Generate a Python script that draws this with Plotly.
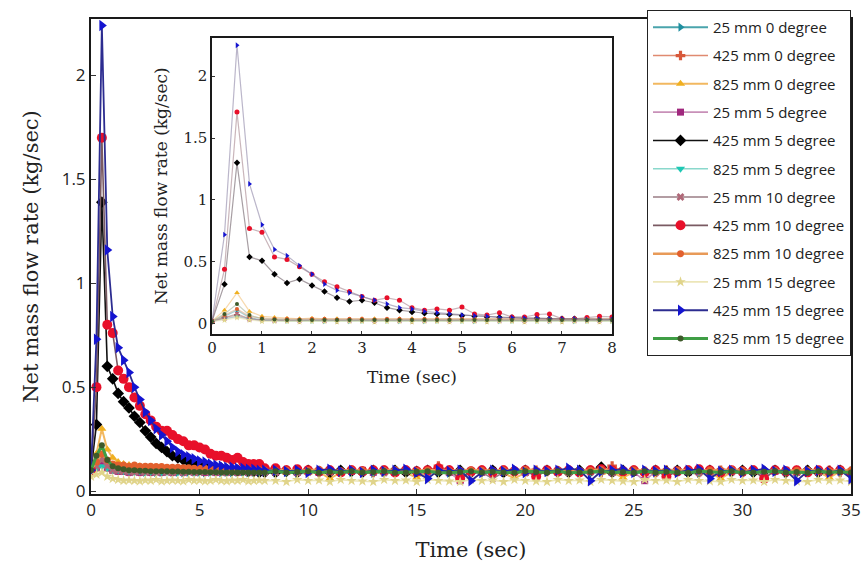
import plotly.graph_objects as go

# ---------------- data ----------------
names = ["25 mm 0 degree", "425 mm 0 degree", "825 mm 0 degree",
         "25 mm 5 degree", "425 mm 5 degree", "825 mm 5 degree",
         "25 mm 10 degree", "425 mm 10 degree", "825 mm 10 degree",
         "25 mm 15 degree", "425 mm 15 degree", "825 mm 15 degree"]

# main plot: samples every 0.25 s up to 8 s, then every 0.5 s up to 35 s
m_25_0 = [0.10, 0.12, 0.14, 0.12, 0.11, 0.105, 0.10, 0.10, 0.095, 0.095, 0.09, 0.095, 0.09, 0.09, 0.095, 0.09, 0.09,
          0.088, 0.09, 0.092, 0.09, 0.088, 0.09, 0.092, 0.088, 0.09, 0.088, 0.09, 0.092, 0.088, 0.09, 0.088, 0.09,
          0.088, 0.09, 0.085, 0.09, 0.092, 0.086, 0.09, 0.088, 0.092, 0.085,
          0.09, 0.088, 0.092, 0.086, 0.09, 0.088, 0.085, 0.092, 0.09, 0.088,
          0.086, 0.09, 0.092, 0.088, 0.085, 0.09, 0.088, 0.092, 0.086, 0.09,
          0.088, 0.092, 0.085, 0.09, 0.088, 0.086, 0.092, 0.09, 0.088, 0.085,
          0.09, 0.092, 0.088, 0.086, 0.09, 0.088, 0.092, 0.085, 0.09, 0.088,
          0.086, 0.09, 0.092, 0.088]
m_425_0 = [0.10, 0.13, 0.16, 0.12, 0.11, 0.10, 0.10, 0.095, 0.10, 0.095, 0.10, 0.095, 0.10, 0.095, 0.10, 0.095, 0.10,
           0.095, 0.10, 0.095, 0.10, 0.095, 0.10, 0.095, 0.10, 0.095, 0.10, 0.095, 0.10, 0.095, 0.10, 0.095, 0.10,
           0.095, 0.10, 0.095, 0.10, 0.09, 0.10, 0.095, 0.10, 0.095, 0.09,
           0.10, 0.095, 0.10, 0.09, 0.095, 0.12, 0.10, 0.095, 0.09, 0.10,
           0.095, 0.10, 0.09, 0.095, 0.10, 0.095, 0.09, 0.10, 0.095, 0.10,
           0.09, 0.12, 0.095, 0.10, 0.095, 0.09, 0.10, 0.095, 0.10, 0.09,
           0.095, 0.10, 0.095, 0.09, 0.10, 0.095, 0.10, 0.09, 0.095, 0.10,
           0.095, 0.10, 0.09, 0.095]
m_825_0 = [0.10, 0.18, 0.30, 0.20, 0.16, 0.14, 0.13, 0.125, 0.12, 0.12, 0.115, 0.115, 0.11, 0.11, 0.11, 0.105, 0.105,
           0.105, 0.10, 0.10, 0.10, 0.10, 0.098, 0.098, 0.096, 0.096, 0.095, 0.095, 0.095, 0.094, 0.094, 0.093, 0.093,
           0.093, 0.09, 0.095, 0.088, 0.092, 0.06, 0.09, 0.095, 0.088, 0.092,
           0.09, 0.095, 0.088, 0.065, 0.092, 0.09, 0.095, 0.088, 0.092, 0.09,
           0.095, 0.088, 0.06, 0.09, 0.092, 0.095, 0.088, 0.09, 0.092, 0.095,
           0.088, 0.09, 0.065, 0.092, 0.095, 0.088, 0.09, 0.092, 0.095, 0.088,
           0.09, 0.06, 0.092, 0.095, 0.088, 0.09, 0.092, 0.095, 0.088, 0.09,
           0.092, 0.065, 0.095, 0.09]
m_25_5 = [0.10, 0.11, 0.13, 0.11, 0.10, 0.095, 0.095, 0.09, 0.095, 0.09, 0.095, 0.09, 0.095, 0.09, 0.095, 0.09, 0.095,
          0.09, 0.095, 0.09, 0.095, 0.09, 0.095, 0.09, 0.095, 0.09, 0.095, 0.09, 0.095, 0.09, 0.095, 0.09, 0.095,
          0.09, 0.095, 0.09, 0.10, 0.09, 0.095, 0.09, 0.095, 0.10, 0.09,
          0.095, 0.09, 0.095, 0.09, 0.10, 0.095, 0.09, 0.05, 0.095, 0.09,
          0.10, 0.09, 0.095, 0.09, 0.095, 0.10, 0.09, 0.095, 0.09, 0.095,
          0.10, 0.09, 0.095, 0.09, 0.05, 0.095, 0.09, 0.10, 0.09, 0.095,
          0.09, 0.095, 0.10, 0.09, 0.095, 0.09, 0.095, 0.10, 0.09, 0.095,
          0.09, 0.095, 0.10, 0.09]
m_425_5 = [0.10, 0.32, 1.39, 0.60, 0.54, 0.47, 0.43, 0.40, 0.36, 0.33, 0.29, 0.26, 0.23, 0.21, 0.19, 0.17, 0.16,
           0.15, 0.14, 0.13, 0.125, 0.12, 0.115, 0.11, 0.11, 0.105, 0.10, 0.10, 0.10, 0.095, 0.095, 0.09, 0.09,
           0.09, 0.095, 0.09, 0.10, 0.095, 0.09, 0.10, 0.095, 0.09, 0.10,
           0.095, 0.10, 0.09, 0.095, 0.10, 0.09, 0.095, 0.10, 0.09, 0.095,
           0.10, 0.09, 0.095, 0.10, 0.09, 0.10, 0.095, 0.09, 0.10, 0.095,
           0.115, 0.09, 0.10, 0.095, 0.09, 0.10, 0.095, 0.10, 0.09, 0.095,
           0.10, 0.09, 0.095, 0.10, 0.09, 0.095, 0.10, 0.09, 0.095, 0.10,
           0.09, 0.095, 0.10, 0.09]
m_825_5 = [0.10, 0.11, 0.12, 0.11, 0.10, 0.10, 0.095, 0.095, 0.092, 0.095, 0.09, 0.092, 0.095, 0.09, 0.092, 0.095, 0.09,
           0.092, 0.095, 0.09, 0.092, 0.095, 0.09, 0.092, 0.095, 0.09, 0.092, 0.095, 0.09, 0.092, 0.095, 0.09, 0.092,
           0.092, 0.09, 0.095, 0.092, 0.088, 0.095, 0.09, 0.092, 0.095, 0.088,
           0.092, 0.09, 0.095, 0.092, 0.088, 0.09, 0.095, 0.092, 0.09, 0.088,
           0.095, 0.092, 0.09, 0.095, 0.088, 0.092, 0.09, 0.095, 0.092, 0.088,
           0.09, 0.095, 0.092, 0.09, 0.088, 0.095, 0.092, 0.09, 0.095, 0.088,
           0.092, 0.09, 0.095, 0.092, 0.088, 0.09, 0.095, 0.092, 0.09, 0.088,
           0.095, 0.092, 0.09, 0.095]
m_25_10 = [0.10, 0.12, 0.15, 0.12, 0.10, 0.10, 0.095, 0.095, 0.09, 0.095, 0.09, 0.095, 0.09, 0.095, 0.09, 0.09, 0.095,
           0.09, 0.095, 0.09, 0.09, 0.095, 0.09, 0.095, 0.09, 0.09, 0.095, 0.09, 0.095, 0.09, 0.09, 0.095, 0.09,
           0.09, 0.095, 0.088, 0.09, 0.095, 0.09, 0.088, 0.095, 0.09, 0.095,
           0.088, 0.09, 0.095, 0.09, 0.088, 0.095, 0.09, 0.095, 0.088, 0.09,
           0.06, 0.09, 0.095, 0.088, 0.09, 0.095, 0.09, 0.088, 0.095, 0.09,
           0.095, 0.088, 0.09, 0.095, 0.09, 0.088, 0.095, 0.09, 0.095, 0.088,
           0.09, 0.095, 0.09, 0.088, 0.095, 0.09, 0.095, 0.088, 0.09, 0.095,
           0.09, 0.088, 0.095, 0.09]
m_425_10 = [0.10, 0.50, 1.70, 0.80, 0.76, 0.58, 0.54, 0.50, 0.45, 0.41, 0.37, 0.34, 0.31, 0.29, 0.29, 0.27, 0.25,
            0.24, 0.22, 0.22, 0.21, 0.20, 0.18, 0.17, 0.17, 0.16, 0.15, 0.16, 0.14, 0.13, 0.13, 0.13, 0.11,
            0.11, 0.10, 0.105, 0.10, 0.095, 0.10, 0.09, 0.10, 0.095, 0.10,
            0.10, 0.09, 0.10, 0.095, 0.10, 0.11, 0.10, 0.06, 0.095, 0.10,
            0.09, 0.10, 0.095, 0.10, 0.07, 0.10, 0.095, 0.10, 0.09, 0.10,
            0.105, 0.10, 0.095, 0.10, 0.09, 0.10, 0.07, 0.095, 0.10, 0.105,
            0.10, 0.09, 0.10, 0.095, 0.10, 0.06, 0.10, 0.095, 0.10, 0.09,
            0.10, 0.095, 0.10, 0.09]
m_825_10 = [0.10, 0.14, 0.18, 0.15, 0.13, 0.125, 0.125, 0.12, 0.125, 0.12, 0.12, 0.12, 0.118, 0.118, 0.115, 0.115, 0.115,
            0.112, 0.112, 0.11, 0.11, 0.11, 0.108, 0.108, 0.106, 0.106, 0.105, 0.105, 0.104, 0.104, 0.103, 0.103, 0.102,
            0.10, 0.102, 0.098, 0.10, 0.104, 0.10, 0.098, 0.102, 0.10, 0.098,
            0.10, 0.104, 0.10, 0.098, 0.102, 0.10, 0.098, 0.10, 0.102, 0.10,
            0.098, 0.102, 0.10, 0.104, 0.10, 0.098, 0.102, 0.10, 0.098, 0.10,
            0.104, 0.10, 0.098, 0.102, 0.10, 0.098, 0.10, 0.102, 0.10, 0.098,
            0.102, 0.10, 0.104, 0.10, 0.098, 0.102, 0.10, 0.098, 0.10, 0.102,
            0.10, 0.098, 0.102, 0.10]
m_25_15 = [0.07, 0.08, 0.09, 0.07, 0.06, 0.055, 0.05, 0.052, 0.05, 0.048, 0.052, 0.05, 0.055, 0.048, 0.05, 0.052, 0.05,
           0.048, 0.055, 0.05, 0.052, 0.048, 0.05, 0.055, 0.05, 0.048, 0.052, 0.05, 0.055, 0.048, 0.05, 0.052, 0.05,
           0.05, 0.045, 0.055, 0.05, 0.052, 0.045, 0.055, 0.05, 0.048, 0.045,
           0.055, 0.05, 0.052, 0.045, 0.055, 0.05, 0.048, 0.045, 0.055, 0.05,
           0.052, 0.045, 0.055, 0.05, 0.048, 0.045, 0.055, 0.05, 0.052, 0.045,
           0.055, 0.05, 0.048, 0.045, 0.055, 0.05, 0.052, 0.045, 0.055, 0.05,
           0.048, 0.045, 0.055, 0.05, 0.052, 0.045, 0.055, 0.05, 0.048, 0.045,
           0.055, 0.05, 0.052, 0.045]
m_425_15 = [0.10, 0.73, 2.24, 1.16, 0.84, 0.69, 0.63, 0.57, 0.50, 0.44, 0.38, 0.34, 0.30, 0.27, 0.24, 0.21, 0.19,
            0.175, 0.165, 0.155, 0.145, 0.14, 0.13, 0.125, 0.12, 0.115, 0.115, 0.11, 0.11, 0.105, 0.105, 0.10, 0.10,
            0.10, 0.095, 0.10, 0.09, 0.10, 0.105, 0.095, 0.10, 0.09, 0.10,
            0.095, 0.10, 0.105, 0.09, 0.06, 0.10, 0.095, 0.10, 0.05, 0.09,
            0.10, 0.095, 0.105, 0.09, 0.10, 0.095, 0.10, 0.11, 0.10, 0.05,
            0.095, 0.10, 0.105, 0.09, 0.10, 0.095, 0.10, 0.09, 0.10, 0.105,
            0.06, 0.095, 0.10, 0.09, 0.10, 0.105, 0.095, 0.10, 0.05, 0.095,
            0.10, 0.09, 0.10, 0.06]
m_825_15 = [0.10, 0.17, 0.22, 0.15, 0.12, 0.11, 0.105, 0.10, 0.10, 0.098, 0.098, 0.096, 0.096, 0.095, 0.095, 0.094, 0.094,
            0.093, 0.093, 0.092, 0.092, 0.092, 0.091, 0.091, 0.09, 0.09, 0.09, 0.09, 0.09, 0.09, 0.09, 0.09, 0.09,
            0.095, 0.09, 0.092, 0.095, 0.088, 0.093, 0.09, 0.095, 0.09, 0.092,
            0.095, 0.088, 0.09, 0.093, 0.095, 0.09, 0.088, 0.092, 0.095, 0.09,
            0.093, 0.09, 0.088, 0.095, 0.092, 0.09, 0.095, 0.088, 0.09, 0.093,
            0.095, 0.09, 0.092, 0.088, 0.095, 0.09, 0.093, 0.09, 0.088, 0.095,
            0.092, 0.09, 0.095, 0.088, 0.09, 0.093, 0.095, 0.09, 0.092, 0.088,
            0.095, 0.09, 0.093, 0.09]

# inset plot: samples every 0.25 s from 0 to 8 s
i_25_0 = [0.02, 0.06, 0.11, 0.05, 0.03, 0.025, 0.025, 0.02, 0.025, 0.02, 0.025, 0.02, 0.025, 0.02, 0.025, 0.02, 0.025,
          0.02, 0.025, 0.02, 0.025, 0.02, 0.025, 0.02, 0.025, 0.02, 0.025, 0.02, 0.025, 0.02, 0.025, 0.02, 0.025]
i_425_0 = [0.02, 0.05, 0.07, 0.04, 0.03, 0.03, 0.03, 0.025, 0.03, 0.03, 0.025, 0.03, 0.03, 0.025, 0.03, 0.03, 0.025,
           0.03, 0.03, 0.025, 0.03, 0.03, 0.025, 0.03, 0.03, 0.025, 0.03, 0.03, 0.025, 0.03, 0.03, 0.025, 0.03]
i_825_0 = [0.02, 0.11, 0.25, 0.10, 0.06, 0.05, 0.045, 0.04, 0.045, 0.04, 0.04, 0.035, 0.04, 0.04, 0.035, 0.04, 0.04,
           0.035, 0.04, 0.035, 0.04, 0.04, 0.035, 0.04, 0.035, 0.04, 0.035, 0.04, 0.04, 0.035, 0.04, 0.035, 0.04]
i_25_5 = [0.02, 0.04, 0.06, 0.035, 0.03, 0.025, 0.03, 0.025, 0.03, 0.025, 0.03, 0.025, 0.03, 0.025, 0.03, 0.025, 0.03,
          0.025, 0.03, 0.025, 0.03, 0.025, 0.03, 0.025, 0.03, 0.025, 0.03, 0.025, 0.03, 0.025, 0.03, 0.025, 0.03]
i_425_5 = [0.02, 0.32, 1.30, 0.54, 0.51, 0.40, 0.33, 0.36, 0.31, 0.26, 0.21, 0.18, 0.19, 0.17, 0.13, 0.11, 0.095,
           0.085, 0.08, 0.075, 0.065, 0.06, 0.055, 0.05, 0.05, 0.045, 0.045, 0.04, 0.04, 0.04, 0.035, 0.035, 0.035]
i_825_5 = [0.02, 0.04, 0.06, 0.04, 0.025, 0.025, 0.02, 0.025, 0.02, 0.025, 0.02, 0.025, 0.02, 0.025, 0.02, 0.025, 0.02,
           0.025, 0.02, 0.025, 0.02, 0.025, 0.02, 0.025, 0.02, 0.025, 0.02, 0.025, 0.02, 0.025, 0.02, 0.025, 0.02]
i_25_10 = [0.02, 0.05, 0.08, 0.04, 0.03, 0.03, 0.025, 0.03, 0.03, 0.025, 0.03, 0.03, 0.025, 0.03, 0.03, 0.025, 0.03,
           0.03, 0.025, 0.03, 0.03, 0.025, 0.03, 0.03, 0.025, 0.03, 0.03, 0.025, 0.03, 0.03, 0.025, 0.03, 0.03]
i_425_10 = [0.02, 0.44, 1.71, 0.77, 0.74, 0.54, 0.52, 0.46, 0.40, 0.34, 0.30, 0.26, 0.22, 0.19, 0.21, 0.19, 0.13,
            0.11, 0.12, 0.11, 0.135, 0.08, 0.07, 0.09, 0.055, 0.055, 0.075, 0.08, 0.04, 0.04, 0.05, 0.06, 0.055]
i_825_10 = [0.02, 0.07, 0.12, 0.06, 0.045, 0.04, 0.04, 0.035, 0.04, 0.04, 0.035, 0.04, 0.04, 0.035, 0.04, 0.04, 0.035,
            0.04, 0.04, 0.035, 0.04, 0.04, 0.035, 0.04, 0.04, 0.035, 0.04, 0.04, 0.035, 0.04, 0.04, 0.035, 0.04]
i_25_15 = [0.02, 0.03, 0.05, 0.03, 0.02, 0.02, 0.02, 0.015, 0.02, 0.02, 0.015, 0.02, 0.02, 0.015, 0.02, 0.02, 0.015,
           0.02, 0.02, 0.015, 0.02, 0.02, 0.015, 0.02, 0.02, 0.015, 0.02, 0.02, 0.015, 0.02, 0.02, 0.015, 0.02]
i_425_15 = [0.02, 0.72, 2.25, 1.13, 0.80, 0.60, 0.55, 0.47, 0.40, 0.32, 0.27, 0.25, 0.22, 0.19, 0.16, 0.13, 0.12,
            0.10, 0.09, 0.08, 0.07, 0.065, 0.06, 0.05, 0.05, 0.045, 0.045, 0.04, 0.04, 0.04, 0.035, 0.035, 0.035]
i_825_15 = [0.02, 0.08, 0.16, 0.07, 0.04, 0.035, 0.03, 0.03, 0.03, 0.03, 0.03, 0.03, 0.03, 0.03, 0.03, 0.03, 0.03,
            0.03, 0.03, 0.03, 0.03, 0.03, 0.03, 0.03, 0.03, 0.03, 0.03, 0.03, 0.03, 0.03, 0.03, 0.03, 0.03]

main_series = [m_25_0, m_425_0, m_825_0, m_25_5, m_425_5, m_825_5,
               m_25_10, m_425_10, m_825_10, m_25_15, m_425_15, m_825_15]
inset_series = [i_25_0, i_425_0, i_825_0, i_25_5, i_425_5, i_825_5,
                i_25_10, i_425_10, i_825_10, i_25_15, i_425_15, i_825_15]

x_ticks_main = [0, 5, 10, 15, 20, 25, 30, 35]
y_ticks_main = [0, 0.5, 1, 1.5, 2]
x_ticks_inset = [0, 1, 2, 3, 4, 5, 6, 7, 8]
y_ticks_inset = [0, 0.5, 1, 1.5, 2]


def main_times(n):
    return [0.25 * i if i <= 32 else 8 + 0.5 * (i - 32) for i in range(n)]


def inset_times(n):
    return [0.25 * i for i in range(n)]


# ---------------- styles ----------------
marker_colors = ["#1f8fa0", "#d8583a", "#f0b020", "#a0287e", "#000000", "#1ec8b4",
                 "#b06878", "#e8102a", "#e2602e", "#e0d48a", "#1414d0", "#3e5a2a"]
line_colors = ["#4aa4ac", "#e08a70", "#f2b860", "#c890b8", "#111111", "#8ad8cc",
               "#9a7c84", "#7a5a62", "#e89a58", "#ece6b8", "#2c2c90", "#3f9e45"]
line_widths = [2, 1.6, 2, 1.6, 1.6, 1.6, 1.6, 1.6, 2.5, 1.6, 1.8, 3]
inset_line_colors = ["rgba(90,164,172,0.5)", "rgba(224,138,112,0.5)", "rgba(242,194,122,0.6)",
                     "rgba(200,144,184,0.5)", "rgba(60,40,50,0.45)", "rgba(138,216,204,0.5)",
                     "rgba(154,124,132,0.5)", "rgba(150,110,120,0.5)", "rgba(216,160,120,0.5)",
                     "rgba(236,230,184,0.6)", "rgba(120,110,150,0.5)", "rgba(150,170,140,0.5)"]
symbols = ["triangle-right", "cross", "triangle-up", "square", "diamond", "triangle-down",
           "x", "circle", "circle", "star", "triangle-right", "circle"]
main_sizes = [8, 8, 8, 7, 9, 8, 7, 10, 7, 8, 10, 6]
inset_sizes = [5, 5, 5, 4, 5, 5, 4, 5, 4, 5, 5, 4]

fig = go.Figure()

for k, name in enumerate(names):
    vals = main_series[k]
    fig.add_trace(go.Scatter(
        x=main_times(len(vals)), y=vals, name=name, mode="lines+markers",
        legendgroup="g%d" % k,
        line=dict(color=line_colors[k], width=line_widths[k]),
        marker=dict(symbol=symbols[k], size=main_sizes[k], color=marker_colors[k],
                    line=dict(width=0)),
        xaxis="x", yaxis="y"))

for k, name in enumerate(names):
    vals = inset_series[k]
    fig.add_trace(go.Scatter(
        x=inset_times(len(vals)), y=vals, name=name, mode="lines+markers",
        showlegend=False, legendgroup="g%d" % k,
        line=dict(color=inset_line_colors[k], width=1.2),
        marker=dict(symbol=symbols[k], size=inset_sizes[k], color=marker_colors[k],
                    line=dict(width=0)),
        xaxis="x2", yaxis="y2"))

serif = "DejaVu Serif"
sans = "Open Sans"
axis_common = dict(showline=True, linecolor="#1a1a1a", mirror=True, showgrid=False,
                   zeroline=False, ticks="inside", tickcolor="#333", automargin=False)

fig.update_layout(
    width=861, height=568,
    margin=dict(l=91, r=10, t=14, b=74),
    paper_bgcolor="white", plot_bgcolor="white",
    showlegend=True,
    xaxis=dict(domain=[0, 1], range=[0, 35], tickvals=x_ticks_main, ticklen=5, linewidth=2,
               tickfont=dict(family=sans, size=17, color="#222"),
               title=dict(text="Time (sec)", font=dict(family=serif, size=21, color="#222"),
                          standoff=22),
               anchor="y", **axis_common),
    yaxis=dict(domain=[0, 1], range=[-0.014, 2.271], tickvals=y_ticks_main, ticklen=5,
               linewidth=2,
               tickfont=dict(family=sans, size=17, color="#222"),
               title=dict(text="Net mass flow rate (kg/sec)",
                          font=dict(family=serif, size=21, color="#222"), standoff=17),
               anchor="x", **axis_common),
    xaxis2=dict(domain=[0.1592, 0.6855], range=[0, 8], tickvals=x_ticks_inset, ticklen=3,
                linewidth=1.5,
                tickfont=dict(family=serif, size=15, color="#222"),
                title=dict(text="Time (sec)", font=dict(family=serif, size=17, color="#222"),
                           standoff=15),
                anchor="y2", **axis_common),
    yaxis2=dict(domain=[0.3375, 0.9604], range=[-0.08, 2.31], tickvals=y_ticks_inset, ticklen=3,
                linewidth=1.5,
                tickfont=dict(family=serif, size=15, color="#222"),
                title=dict(text="Net mass flow rate (kg/sec)",
                           font=dict(family=serif, size=17, color="#222"), standoff=11),
                anchor="x2", **axis_common),
    legend=dict(x=1.0, xanchor="right", y=1.019, yanchor="top",
                bgcolor="white", bordercolor="#222", borderwidth=1,
                font=dict(family=sans, size=15, color="#222"),
                itemwidth=55, traceorder="grouped", tracegroupgap=5.8,
                maxheight=500, itemclick=False),
)

fig.write_html("out.html")
